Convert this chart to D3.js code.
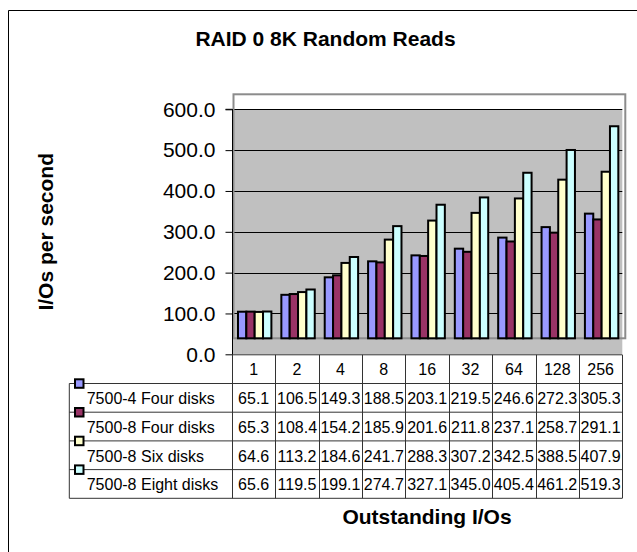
<!DOCTYPE html>
<html>
<head>
<meta charset="utf-8">
<script src="https://cdn.jsdelivr.net/npm/d3@7"></script>
<style>
  html, body { margin: 0; padding: 0; background: #fff; overflow: hidden; }
  svg { display: block; font-family: "Liberation Sans", Arial, sans-serif; }
</style>
</head>
<body>
<svg id="chart" width="637" height="552"></svg>
<script>
// ---- data ----
const categories = ["1", "2", "4", "8", "16", "32", "64", "128", "256"];
const seriesNames = ["7500-4 Four disks", "7500-8 Four disks", "7500-8 Six disks", "7500-8 Eight disks"];
const s7500_4_four = [65.1, 106.5, 149.3, 188.5, 203.1, 219.5, 246.6, 272.3, 305.3];
const s7500_8_four = [65.3, 108.4, 154.2, 185.9, 201.6, 211.8, 237.1, 258.7, 291.1];
const s7500_8_six = [64.6, 113.2, 184.6, 241.7, 288.3, 307.2, 342.5, 388.5, 407.9];
const s7500_8_eight = [65.6, 119.5, 199.1, 274.7, 327.1, 345.0, 405.4, 461.2, 519.3];
const seriesValues = [s7500_4_four, s7500_8_four, s7500_8_six, s7500_8_eight];
const seriesColors = ["#9999FF", "#993366", "#FFFFCC", "#CCFFFF"];
const yTicks = [0, 100, 200, 300, 400, 500, 600];
const title = "RAID 0 8K Random Reads";
const yTitle = "I/Os per second";
const xTitle = "Outstanding I/Os";

// ---- layout ----
const svg = d3.select("#chart");
const plotL = 232, plotR = 622.3, plotT = 109.3, plotB = 354.3;
const depth = 16;          // 3-D depth offset of the floor/front
const rowH = 28.7;
const tableL = 69.3;

const x = d3.scaleBand().domain(categories).range([plotL, plotR]).paddingInner(0).paddingOuter(0);
const groupW = 33.4;
const xs = d3.scaleBand().domain(d3.range(seriesNames.length)).range([0, groupW]);
const y = d3.scaleLinear().domain([0, 600]).range([plotB, plotT]);

// outer chart border (extends past the right/bottom edges)
svg.append("path").attr("d", "M8.5,560V10.5H640")
  .attr("fill", "none").attr("stroke", "#000").attr("stroke-width", 1);

// title
svg.append("text").attr("x", 325.5).attr("y", 45.7).attr("text-anchor", "middle")
  .attr("font-size", 21).attr("font-weight", "bold").text(title);

// front frame background (white band above wall)
svg.append("rect").attr("x", plotL + 1).attr("y", plotT - 15).attr("width", plotR - plotL + 1).attr("height", 244)
  .attr("fill", "#fff");

// wall
svg.append("rect").attr("x", plotL).attr("y", plotT).attr("width", plotR - plotL).attr("height", plotB - plotT)
  .attr("fill", "#C0C0C0");

// gridlines
svg.append("g").selectAll("line").data(yTicks.filter(d => d > 0)).join("line")
  .attr("x1", plotL).attr("x2", plotR)
  .attr("y1", d => Math.round(y(d)) + 0.5).attr("y2", d => Math.round(y(d)) + 0.5)
  .attr("stroke", "#000").attr("stroke-width", 1);

// frame outline (3-D box front)
svg.append("rect").attr("x", plotL + 1.5).attr("y", plotT - 15).attr("width", plotR - plotL + 1.5).attr("height", y(0) - depth - (plotT - 15))
  .attr("fill", "none").attr("stroke", "#8c8c8c").attr("stroke-width", 2);

// y axis
const yAxis = d3.axisLeft(y).tickValues(yTicks).tickSize(7).tickPadding(10).tickFormat(d3.format(".1f"));
const gy = svg.append("g").attr("transform", `translate(${plotL + 0.5},0)`).call(yAxis);
gy.select(".domain").attr("stroke", "#000").attr("d", `M-7,${plotT}H0V${plotB + 1}`);
gy.selectAll(".tick line").attr("stroke", "#000");
gy.selectAll(".tick text").attr("font-size", 21).attr("font-family", "Liberation Sans, Arial, sans-serif").attr("fill", "#000");

// bars
const gBars = svg.append("g");
seriesValues.forEach((vals, si) => {
  gBars.append("g").selectAll("rect").data(vals).join("rect")
    .attr("x", (d, i) => x(categories[i]) + (x.bandwidth() - groupW) / 2 + 1 + xs(si))
    .attr("y", d => y(d) - depth)
    .attr("width", xs.bandwidth())
    .attr("height", d => y(0) - y(d))
    .attr("fill", seriesColors[si])
    .attr("stroke", "#000").attr("stroke-width", 2);
});

// ---- data table ----
const tTop = plotB + 0.5;
const gT = svg.append("g");
const lineC = "#333";
gT.append("line").attr("x1", plotL).attr("x2", plotR).attr("y1", tTop).attr("y2", tTop).attr("stroke", lineC);
d3.range(1, seriesNames.length + 2).forEach(r => {
  const yy = tTop + r * rowH;
  gT.append("line").attr("x1", tableL).attr("x2", plotR).attr("y1", yy).attr("y2", yy).attr("stroke", lineC);
});
const colEdges = categories.map(c => x(c)).concat([plotR]);
gT.selectAll("line.col").data(colEdges).join("line").attr("class", "col")
  .attr("x1", d => Math.round(d) + 0.5).attr("x2", d => Math.round(d) + 0.5)
  .attr("y1", tTop).attr("y2", tTop + rowH * (seriesNames.length + 1))
  .attr("stroke", lineC);
gT.append("line").attr("x1", tableL).attr("x2", tableL).attr("y1", tTop + rowH).attr("y2", tTop + rowH * (seriesNames.length + 1)).attr("stroke", lineC);

gT.selectAll("text.cat").data(categories).join("text").attr("class", "cat")
  .attr("x", d => x(d) + x.bandwidth() / 2).attr("y", tTop + rowH - 8.5)
  .attr("text-anchor", "middle").attr("font-size", 16).text(d => d);

seriesNames.forEach((name, si) => {
  const rTop = tTop + (si + 1) * rowH;
  gT.append("text").attr("x", 86.7).attr("y", rTop + rowH - 8).attr("font-size", 16).text(name);
  gT.append("g").selectAll("text").data(seriesValues[si]).join("text")
    .attr("x", (d, i) => x(categories[i]) + x.bandwidth() / 2).attr("y", rTop + rowH - 8)
    .attr("text-anchor", "middle").attr("font-size", 16).text(d => d.toFixed(1));
  gT.append("rect").attr("x", 75).attr("y", rTop - 4.2).attr("width", 8.5).attr("height", 8.5)
    .attr("fill", seriesColors[si]).attr("stroke", "#000").attr("stroke-width", 2);
});

// axis titles
svg.append("text").attr("transform", `translate(53,${(plotT + plotB) / 2}) rotate(-90)`)
  .attr("text-anchor", "middle").attr("font-size", 21).attr("font-weight", "bold").text(yTitle);
svg.append("text").attr("x", 427).attr("y", 524).attr("text-anchor", "middle")
  .attr("font-size", 21).attr("font-weight", "bold").text(xTitle);
</script>
</body>
</html>
